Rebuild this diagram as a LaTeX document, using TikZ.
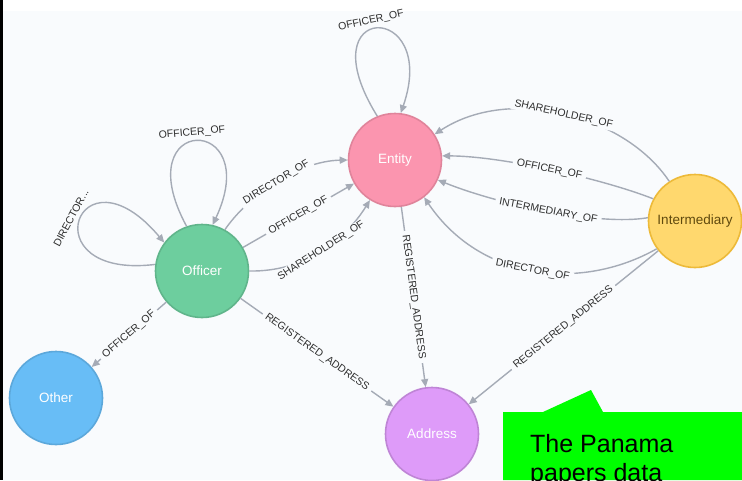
\documentclass[tikz,border=0pt]{standalone}
\usepackage{fontspec}
\setmainfont{Liberation Sans}
\usetikzlibrary{arrows.meta}

\definecolor{canvas}{HTML}{F9FBFD}
\definecolor{edgegray}{HTML}{A5ABB6}
\definecolor{labeltext}{HTML}{2E2E2E}
\definecolor{pinkfill}{HTML}{FB95AF}
\definecolor{pinkline}{HTML}{E0849B}
\definecolor{greenfill}{HTML}{6DCE9E}
\definecolor{greenline}{HTML}{60B58B}
\definecolor{bluefill}{HTML}{68BDF6}
\definecolor{blueline}{HTML}{5CA8DB}
\definecolor{violetfill}{HTML}{DE9BF9}
\definecolor{violetline}{HTML}{BF85D6}
\definecolor{yellowfill}{HTML}{FFD86E}
\definecolor{yellowline}{HTML}{EDBA39}
\definecolor{yellowtext}{HTML}{604A0E}
\definecolor{calloutgreen}{HTML}{00FF00}

\begin{document}
\begin{tikzpicture}[x=1pt,y=-1pt,
  graphnode/.style={circle, minimum size=93pt, inner sep=0pt, line width=1.6pt,
    font=\fontsize{13.5}{16}\selectfont, text=white},
  rel/.style={draw=edgegray, line width=1.4pt, -{Triangle[length=8pt,width=7pt]}},
  elabel/.style={font=\fontsize{10.5}{12}\selectfont, text=labeltext, fill=canvas,
    inner xsep=4pt, inner ysep=1pt, sloped, pos=0.5},
  looplabel/.style={font=\fontsize{10.5}{12}\selectfont, text=labeltext, inner sep=0pt},
  callouttext/.style={font=\fontsize{25}{29}\selectfont, text=black, inner sep=0pt, anchor=base west}
]
\useasboundingbox (0,0) rectangle (742,480);
\clip (0,0) rectangle (742,480);

% canvas, white top band and dark left edge
\fill[canvas] (0,0) rectangle (742,480);
\fill[white] (0,0) rectangle (742,11);
\fill[black] (0,0) rectangle (3,480);

% graph nodes
\node[graphnode, fill=pinkfill, draw=pinkline] (entity) at (395,160) {Entity};
\node[graphnode, fill=greenfill, draw=greenline] (officer) at (202,271) {Officer};
\node[graphnode, fill=yellowfill, draw=yellowline, text=yellowtext] (inter) at (695,221) {Intermediary};
\node[graphnode, fill=bluefill, draw=blueline] (other) at (56,398) {Other};
\node[graphnode, fill=violetfill, draw=violetline] (address) at (432,434) {Address};

% self loops
\draw[rel] (entity.112) .. controls (305,0) and (440,0) .. (entity.83);
\node[looplabel, rotate=12] (lblEloop) at (371,21) {OFFICER\_OF};

\draw[rel] (officer.109) .. controls (125,113) and (265,113) .. (officer.77);
\node[looplabel, rotate=5] (lblOloop) at (192,133) {OFFICER\_OF};

\draw[rel] (officer.172) .. controls (28,280) and (78,140) .. (officer.143);
\node[looplabel, rotate=62] (lblDloop) at (71,218) {DIRECTOR...};

% officer -> entity
\draw[rel] (officer.61) .. controls (248,196) and (298,161) .. (entity.180)
  node[elabel] {DIRECTOR\_OF};
\draw[rel] (officer) -- (entity) node[elabel] {OFFICER\_OF};
\draw[rel] (officer.0) .. controls (305,272) and (345,240) .. (entity.238)
  node[elabel] {SHAREHOLDER\_OF};

% officer -> other, officer -> address, entity -> address
\draw[rel] (officer) -- (other) node[elabel] {OFFICER\_OF};
\draw[rel] (officer) -- (address) node[elabel] {REGISTERED\_ADDRESS};
\draw[rel] (entity) -- (address) node[elabel] {REGISTERED\_ADDRESS};

% intermediary -> entity
\draw[rel] (inter.123) .. controls (625,115) and (510,85) .. (entity.33)
  node[elabel] {SHAREHOLDER\_OF};
\draw[rel] (inter.152) .. controls (600,178) and (500,156) .. (entity.5)
  node[elabel] {OFFICER\_OF};
\draw[rel] (inter.176) .. controls (600,226) and (500,205) .. (entity.-25)
  node[elabel] {INTERMEDIARY\_OF};
\draw[rel] (inter.216) .. controls (580,292) and (480,280) .. (entity.-52)
  node[elabel] {DIRECTOR\_OF};

% intermediary -> address
\draw[rel] (inter) -- (address) node[elabel] {REGISTERED\_ADDRESS};

% callout
\fill[calloutgreen] (503,412) -- (543,412) -- (591,390) -- (603,412) -- (742,412)
  -- (742,480) -- (503,480) -- cycle;
\node[callouttext] (callA) at (530,452.7) {The Panama};
\node[callouttext] (callB) at (530,481.5) {papers data};
\end{tikzpicture}
\end{document}
